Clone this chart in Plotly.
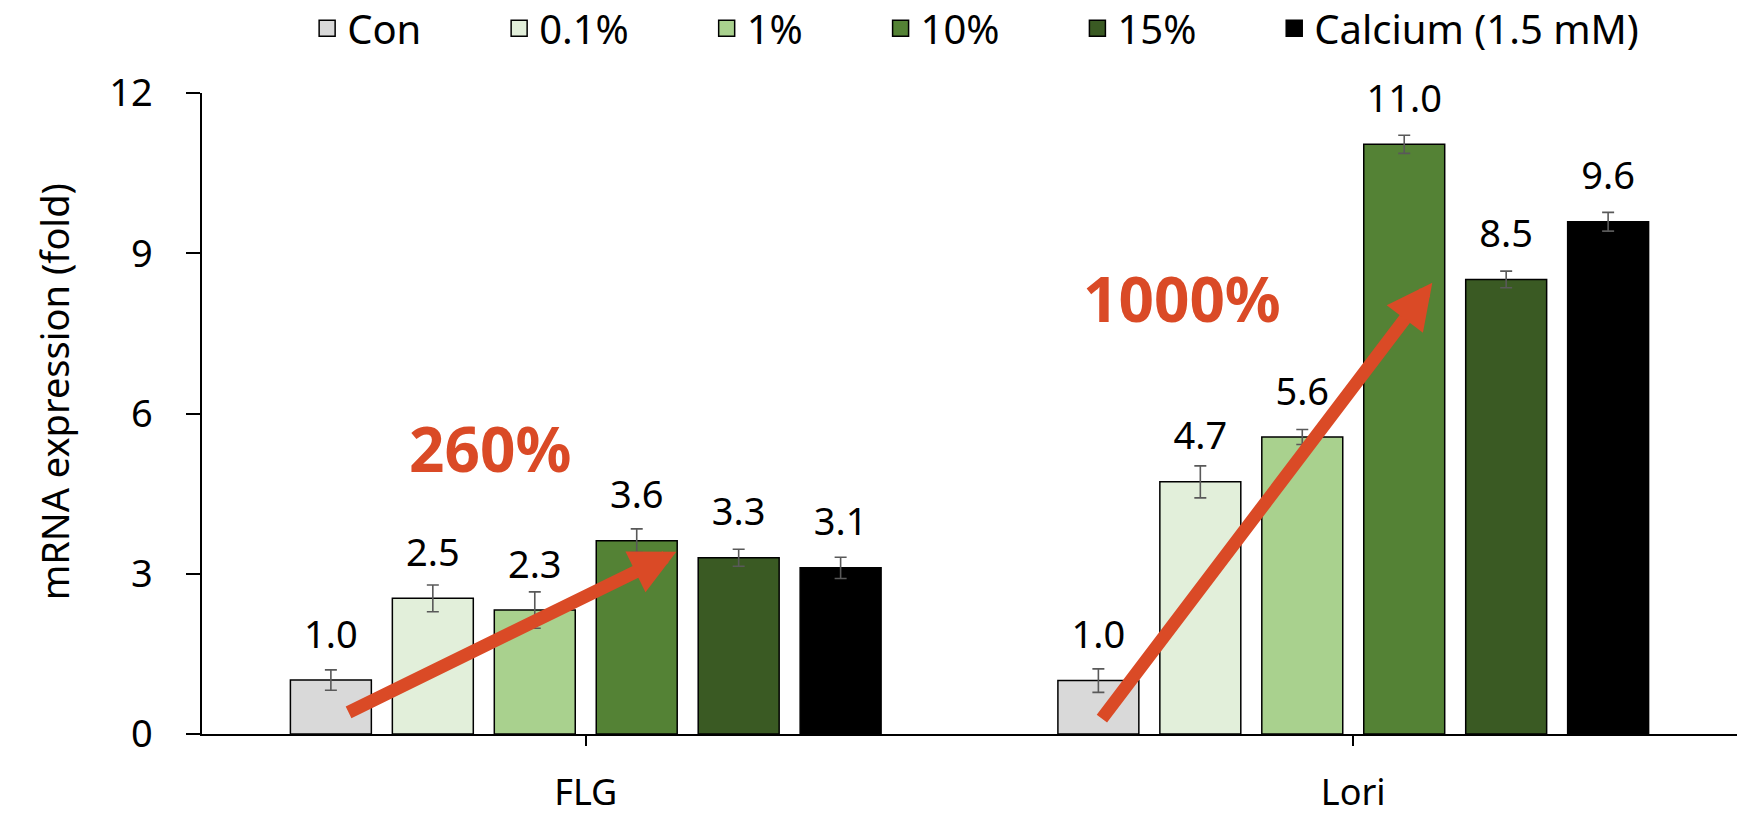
import plotly.graph_objects as go

genes = ["FLG", "Lori"]
series_names = ["Con", "0.1%", "1%", "10%", "15%", "Calcium (1.5 mM)"]
series_colors = ["#D9D9D9", "#E2EFDA", "#A9D18E", "#548235", "#3A5A23", "#000000"]
values = {
    "Con": [1.01, 1.0],
    "0.1%": [2.54, 4.72],
    "1%": [2.32, 5.56],
    "10%": [3.62, 11.04],
    "15%": [3.30, 8.51],
    "Calcium (1.5 mM)": [3.11, 9.59],
}
errors = {
    "Con": [0.19, 0.22],
    "0.1%": [0.25, 0.30],
    "1%": [0.34, 0.14],
    "10%": [0.22, 0.17],
    "15%": [0.16, 0.155],
    "Calcium (1.5 mM)": [0.20, 0.175],
}
y_ticks = [0, 3, 6, 9, 12]
y_title = "mRNA expression (fold)"
increase_labels = ["260%", "1000%"]

FONT = "Noto Sans"
RED = "#DA4A26"
BAR_GAP = 0.203
GROUP_GAP = 0.206

fig = go.Figure()
for i, name in enumerate(series_names):
    og = f"g{i}"
    fig.add_trace(go.Bar(
        x=genes, y=values[name], name=name, offsetgroup=og,
        marker=dict(color=series_colors[i], line=dict(color="#000000", width=1.5)),
        error_y=dict(type="data", array=errors[name], color="#595959", thickness=1.6, width=6),
        showlegend=False, hoverinfo="skip",
    ))
for i, name in enumerate(series_names):
    og = f"g{i}"
    fig.add_trace(go.Scatter(
        x=genes, y=values[name], offsetgroup=og, mode="markers+text",
        text=[f"{v:.1f}" for v in values[name]], textposition="top center",
        textfont=dict(family=FONT, size=38, color="#000000"),
        marker=dict(size=35, color="rgba(0,0,0,0)"),
        showlegend=False, hoverinfo="skip", cliponaxis=False,
    ))
pad = "\u00a0" * 7
for i, name in enumerate(series_names):
    fig.add_trace(go.Scatter(
        x=[None], y=[None], offsetgroup=f"g{i}", mode="markers",
        name=name + (pad if i < len(series_names) - 1 else ""),
        marker=dict(symbol="square", size=16, color=series_colors[i],
                    line=dict(color="#000000", width=1.5)),
        showlegend=True,
    ))

# arrows (tip x, tip y, tail x, tail y) in data coordinates
arrows = [(0.118, 3.41, -0.311, 0.39), (1.103, 8.45, 0.671, 0.26)]
label_pos = [(-0.125, 5.36), (0.777, 8.16)]
annotations = []
for (tx, ty, sx, sy) in arrows:
    annotations.append(dict(
        x=tx, y=ty, ax=sx, ay=sy, xref="x", yref="y", axref="x", ayref="y",
        text="", showarrow=True, arrowhead=2, arrowsize=0.7, arrowwidth=13,
        arrowcolor=RED, standoff=0,
    ))
for (lx, ly), txt in zip(label_pos, increase_labels):
    annotations.append(dict(
        x=lx, y=ly, xref="x", yref="y", text=f"<b>{txt}</b>", showarrow=False,
        xanchor="center", yanchor="middle",
        font=dict(family=FONT, size=62, color=RED),
    ))
annotations.append(dict(
    x=-0.0964, y=0.533, xref="paper", yref="paper", text=y_title, textangle=-90,
    xanchor="center", yanchor="middle",
    showarrow=False, font=dict(family=FONT, size=38, color="#000000"),
))

fig.update_layout(
    width=1757, height=817,
    margin=dict(l=202, r=20, t=93, b=83, autoexpand=False),
    paper_bgcolor="white", plot_bgcolor="white",
    barmode="group", bargap=BAR_GAP, bargroupgap=GROUP_GAP,
    scattermode="group", scattergap=BAR_GAP,
    font=dict(family=FONT, size=38, color="#000000"),
    legend=dict(orientation="h", x=0.504, xanchor="center", y=1.101, yanchor="middle",
                font=dict(family=FONT, size=40, color="#000000"),
                itemsizing="trace", bgcolor="rgba(0,0,0,0)"),
    annotations=annotations,
    showlegend=True,
)
fig.update_xaxes(
    type="category", range=[-0.5, 1.5], showline=True, linecolor="#000000", linewidth=1.5,
    ticks="outside", ticklen=10, tickcolor="#000000", tickwidth=1.5,
    showgrid=False, zeroline=False, ticklabelstandoff=16, automargin=False,
    tickfont=dict(family=FONT, size=36, color="#000000"),
)
fig.update_yaxes(
    range=[0, 12], tickvals=y_ticks, showline=True, linecolor="#000000", linewidth=1.5,
    ticks="outside", ticklen=14, tickcolor="#000000", tickwidth=1.5,
    showgrid=False, zeroline=False, ticklabelstandoff=26, automargin=False,
    tickfont=dict(family=FONT, size=38, color="#000000"),
)

fig.write_html("out.html", config={"displayModeBar": False},
               post_script="document.body.style.margin='0px';")
